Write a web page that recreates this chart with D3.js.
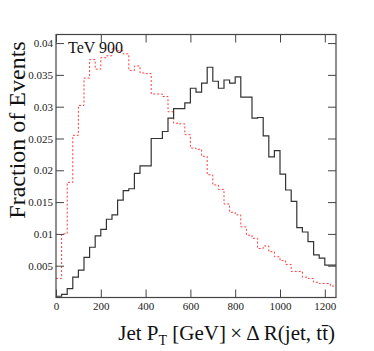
<!DOCTYPE html>
<html>
<head>
<meta charset="utf-8">
<script src="https://cdn.jsdelivr.net/npm/d3@7"></script>
<style>
  body { margin: 0; background: #fff; }
  text { font-family: "Liberation Serif", "DejaVu Serif", serif; }
</style>
</head>
<body>
<svg id="chart" width="374" height="351"></svg>
<script>
// bin edges: 0..1250 GeV, 25 GeV wide
const binWidth = 25;
const nBins = 50;

// black solid histogram
const blackVals = [
  0.0002, 0.0005, 0.0014, 0.0032, 0.0043, 0.0063, 0.0079, 0.0097, 0.0107, 0.0123,
  0.0130, 0.0153, 0.0168, 0.0171, 0.0195, 0.0207, 0.0207, 0.0250, 0.0250, 0.0261,
  0.0282, 0.0297, 0.0297, 0.0306, 0.0329, 0.0323, 0.0337, 0.0362, 0.0340, 0.0329,
  0.0342, 0.0337, 0.0347, 0.0315, 0.0315, 0.0282, 0.0283, 0.0254, 0.0221, 0.0231,
  0.0194, 0.0169, 0.0151, 0.0110, 0.0103, 0.0088, 0.0067, 0.0062, 0.0051, 0.0051
];

// red dashed histogram
const redVals = [
  0.0030, 0.0100, 0.0181, 0.0255, 0.0302, 0.0345, 0.0374, 0.0359, 0.0377, 0.0380,
  0.0391, 0.0388, 0.0383, 0.0357, 0.0364, 0.0353, 0.0352, 0.0320, 0.0320, 0.0316,
  0.0292, 0.0274, 0.0273, 0.0256, 0.0235, 0.0233, 0.0222, 0.0193, 0.0177, 0.0170,
  0.0147, 0.0134, 0.0130, 0.0111, 0.0098, 0.0093, 0.0077, 0.0081, 0.0072, 0.0064,
  0.0058, 0.0052, 0.0041, 0.0041, 0.0032, 0.0030, 0.0024, 0.0022, 0.0022, 0.0018
];

const xTicks = [0, 200, 400, 600, 800, 1000, 1200];
const yTicks = [0.005, 0.01, 0.015, 0.02, 0.025, 0.03, 0.035, 0.04];

const pLeft = 56, pRight = 336, pTop = 34.5, pBottom = 297.5;

const svg = d3.select('#chart');

const xScale = d3.scaleLinear().domain([0, binWidth * nBins]).range([pLeft, pRight]);
const yScale = d3.scaleLinear().domain([0, 0.04135]).range([pBottom, pTop]);

// step points for a histogram
function steps(vals) {
  let pts = vals.map((v, i) => [i * binWidth, v]);
  pts.push([nBins * binWidth, vals[vals.length - 1]]);
  return pts;
}

const line = d3.line()
  .x(d => xScale(d[0]))
  .y(d => yScale(d[1]))
  .curve(d3.curveStepAfter);

svg.append('path')
  .attr('d', line(steps(redVals)))
  .attr('fill', 'none')
  .attr('stroke', '#ff3b3b')
  .attr('stroke-width', 1)
  .attr('stroke-dasharray', '2,2');

svg.append('path')
  .attr('d', line(steps(blackVals)))
  .attr('fill', 'none')
  .attr('stroke', '#333')
  .attr('stroke-width', 1.2);

// axes (ticks point inward)
const fmt = d3.format('~g');

const xAxis = svg.append('g')
  .attr('transform', 'translate(0,' + pBottom + ')')
  .call(d3.axisBottom(xScale).tickValues(xTicks).tickSize(-8).tickSizeOuter(0).tickPadding(5).tickFormat(fmt));
const yAxis = svg.append('g')
  .attr('transform', 'translate(' + pLeft + ',0)')
  .call(d3.axisLeft(yScale).tickValues(yTicks).tickSize(-8).tickSizeOuter(0).tickPadding(3).tickFormat(fmt));
const xTop = svg.append('g')
  .attr('transform', 'translate(0,' + pTop + ')')
  .call(d3.axisTop(xScale).tickValues(xTicks).tickSize(-8).tickSizeOuter(0).tickFormat(''));
const yRight = svg.append('g')
  .attr('transform', 'translate(' + pRight + ',0)')
  .call(d3.axisRight(yScale).tickValues(yTicks).tickSize(-8).tickSizeOuter(0).tickFormat(''));

[xAxis, yAxis, xTop, yRight].forEach(g => {
  g.select('.domain').remove();
  g.selectAll('line').attr('stroke', '#444');
  g.selectAll('text')
    .attr('fill', '#222')
    .style('font-family', '"Liberation Serif", serif')
    .style('font-size', '11px');
});

// frame
svg.append('rect')
  .attr('x', pLeft).attr('y', pTop)
  .attr('width', pRight - pLeft).attr('height', pBottom - pTop)
  .attr('fill', 'none')
  .attr('stroke', '#444')
  .attr('stroke-width', 1.2);

// labels
svg.append('text')
  .attr('x', 68).attr('y', 53)
  .style('font-size', '16px')
  .attr('fill', '#111')
  .text('TeV 900');

svg.append('text')
  .attr('transform', 'translate(25,130) rotate(-90)')
  .attr('text-anchor', 'middle')
  .style('font-size', '24px')
  .attr('fill', '#111')
  .text('Fraction of Events');

const xt = svg.append('text')
  .attr('x', 335).attr('y', 340)
  .attr('text-anchor', 'end')
  .style('font-size', '21px')
  .attr('fill', '#111');
xt.append('tspan').text('Jet P');
xt.append('tspan').attr('dy', 5).style('font-size', '14px').text('T');
xt.append('tspan').attr('dy', -5).text(' [GeV]\u2009\u00d7\u2009\u0394 R(jet, tt\u0304)');
</script>
</body>
</html>
